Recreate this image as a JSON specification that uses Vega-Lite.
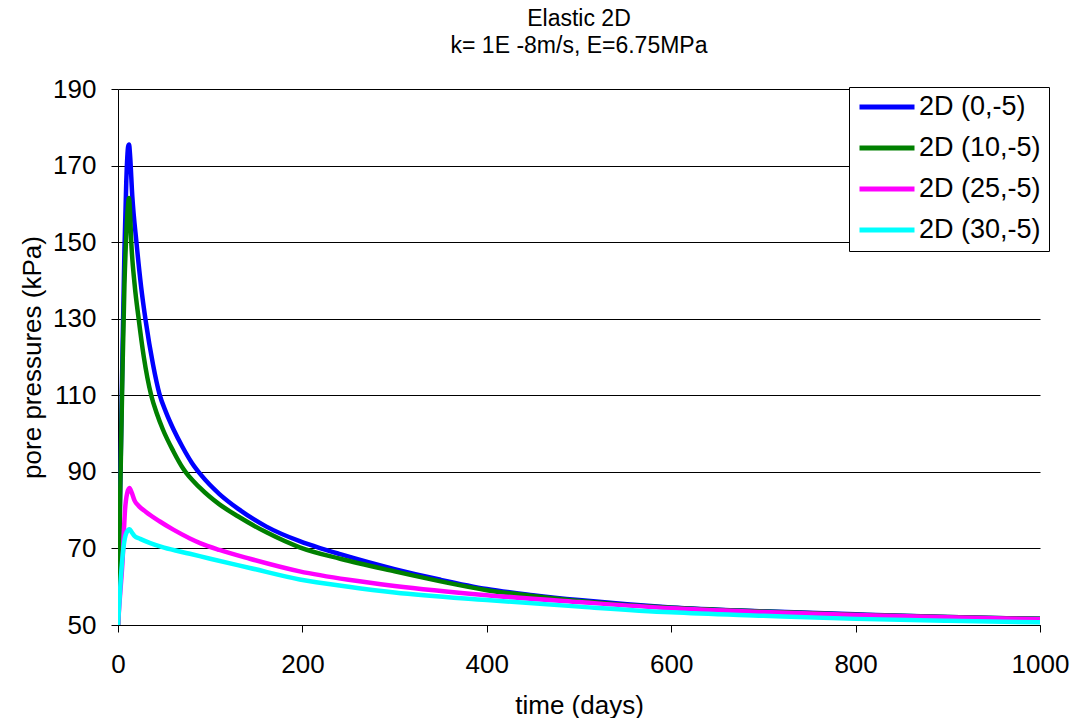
{
  "$schema": "https://vega.github.io/schema/vega-lite/v6.json",
  "width": 922,
  "height": 536,
  "autosize": {"type": "none"},
  "padding": {"left": 118, "top": 89, "right": 36, "bottom": 93},
  "background": "white",
  "title": {
    "text": ["Elastic 2D", "k= 1E -8m/s, E=6.75MPa"],
    "font": "Liberation Sans",
    "fontSize": 23,
    "fontWeight": "normal",
    "color": "black",
    "anchor": "middle",
    "lineHeight": 27,
    "offset": 18
  },
  "config": {
    "view": {"stroke": null},
    "font": "Liberation Sans"
  },
  "datasets": {
    "s0": [
      {"t": 0, "p": 50}, {"t": 1, "p": 66}, {"t": 3, "p": 94}, {"t": 5, "p": 123}, {"t": 7, "p": 148}, {"t": 9, "p": 166}, {"t": 11, "p": 175}, {"t": 12, "p": 175.5}, {"t": 13, "p": 173}, {"t": 15.5, "p": 162}, {"t": 20, "p": 150}, {"t": 25, "p": 138.5}, {"t": 30, "p": 129.5}, {"t": 38, "p": 118}, {"t": 45, "p": 110.3}, {"t": 52, "p": 105.6}, {"t": 60, "p": 101.2}, {"t": 70, "p": 96.5}, {"t": 80, "p": 92.4}, {"t": 90, "p": 89.2}, {"t": 110, "p": 84.2}, {"t": 130, "p": 80.4}, {"t": 161, "p": 75.7}, {"t": 197, "p": 71.9}, {"t": 219, "p": 70.1}, {"t": 241, "p": 68.5}, {"t": 300, "p": 64.6}, {"t": 350, "p": 61.8}, {"t": 400, "p": 59.4}, {"t": 450, "p": 57.8}, {"t": 500, "p": 56.5}, {"t": 600, "p": 54.6}, {"t": 700, "p": 53.6}, {"t": 800, "p": 52.8}, {"t": 900, "p": 52.1}, {"t": 1000, "p": 51.6}
    ],
    "s1": [
      {"t": 0, "p": 50}, {"t": 1, "p": 66}, {"t": 3, "p": 92}, {"t": 5, "p": 118}, {"t": 7, "p": 139}, {"t": 9, "p": 152}, {"t": 11, "p": 160}, {"t": 12, "p": 161.5}, {"t": 13, "p": 158}, {"t": 14.4, "p": 150}, {"t": 18, "p": 139}, {"t": 22.4, "p": 130}, {"t": 28, "p": 120}, {"t": 36, "p": 110}, {"t": 42, "p": 105.3}, {"t": 48.8, "p": 101}, {"t": 60, "p": 95.4}, {"t": 70.8, "p": 90.8}, {"t": 89, "p": 85.8}, {"t": 110, "p": 81.5}, {"t": 130, "p": 78.4}, {"t": 161, "p": 74.2}, {"t": 197, "p": 70.3}, {"t": 241, "p": 67.3}, {"t": 300, "p": 64}, {"t": 350, "p": 61.4}, {"t": 400, "p": 59.1}, {"t": 450, "p": 57.6}, {"t": 500, "p": 56.3}, {"t": 600, "p": 54.5}, {"t": 700, "p": 53.5}, {"t": 800, "p": 52.7}, {"t": 900, "p": 52.1}, {"t": 1000, "p": 51.6}
    ],
    "s2": [
      {"t": 0, "p": 50}, {"t": 2, "p": 57}, {"t": 5, "p": 67}, {"t": 7.6, "p": 80}, {"t": 10, "p": 84.5}, {"t": 12.5, "p": 85.8}, {"t": 15, "p": 84.5}, {"t": 18, "p": 82.5}, {"t": 22, "p": 81.2}, {"t": 30, "p": 79.6}, {"t": 45, "p": 77.1}, {"t": 60, "p": 74.9}, {"t": 78, "p": 72.6}, {"t": 89, "p": 71.4}, {"t": 110, "p": 69.6}, {"t": 143, "p": 67.3}, {"t": 197, "p": 64}, {"t": 250, "p": 61.8}, {"t": 300, "p": 60.2}, {"t": 400, "p": 57.8}, {"t": 500, "p": 56}, {"t": 600, "p": 54.4}, {"t": 700, "p": 53.4}, {"t": 800, "p": 52.6}, {"t": 900, "p": 52}, {"t": 1000, "p": 51.5}
    ],
    "s3": [
      {"t": 0, "p": 50}, {"t": 3, "p": 62}, {"t": 6, "p": 70.4}, {"t": 9, "p": 74}, {"t": 12.5, "p": 75}, {"t": 15, "p": 74.2}, {"t": 18, "p": 73.2}, {"t": 24, "p": 72.5}, {"t": 35, "p": 71.4}, {"t": 50, "p": 70.2}, {"t": 78, "p": 68.6}, {"t": 100, "p": 67.3}, {"t": 143, "p": 64.9}, {"t": 197, "p": 61.9}, {"t": 250, "p": 60}, {"t": 300, "p": 58.5}, {"t": 400, "p": 56.5}, {"t": 500, "p": 54.8}, {"t": 600, "p": 53.3}, {"t": 700, "p": 52.4}, {"t": 800, "p": 51.6}, {"t": 900, "p": 51.1}, {"t": 1000, "p": 50.7}
    ]
  },
  "layer": [
    {"data": {"name": "s0"}, "transform": [{"calculate": "'2D (0,-5)'", "as": "series"}],
     "mark": {"type": "line", "strokeWidth": 4.5, "strokeJoin": "round", "strokeCap": "round", "interpolate": "monotone", "clip": true},
     "encoding": {
       "x": {"field": "t", "type": "quantitative", "scale": {"domain": [0, 1000], "nice": false},
             "axis": {"values": [0, 200, 400, 600, 800, 1000], "format": "d", "title": "time (days)", "grid": false,
                      "domainColor": "black", "tickColor": "black", "tickSize": 7, "labelFontSize": 26, "labelColor": "black", "labelPadding": 19,
                      "titleFontSize": 26, "titleFontWeight": "normal", "titleColor": "black", "titleX": 461, "titleY": 80, "titleBaseline": "middle", "titleAlign": "center", "labelFlush": false}},
       "y": {"field": "p", "type": "quantitative", "scale": {"domain": [50, 190], "nice": false, "zero": false},
             "axis": {"values": [50, 70, 90, 110, 130, 150, 170, 190], "title": "pore pressures (kPa)", "grid": true, "gridColor": "black", "gridOpacity": 1, "gridWidth": 1,
                      "domainColor": "black", "tickColor": "black", "tickSize": 7, "labelFontSize": 26, "labelColor": "black", "labelPadding": 15,
                      "titleFontSize": 26, "titleFontWeight": "normal", "titleColor": "black", "titleX": -86, "titleY": 268, "titleAngle": 270, "titleBaseline": "middle", "titleAlign": "center"}},
       "color": {"field": "series", "type": "nominal",
                 "scale": {"domain": ["2D (0,-5)", "2D (10,-5)", "2D (25,-5)", "2D (30,-5)"], "range": ["#0000FF", "#008000", "#FF00FF", "#00FFFF"]},
                 "legend": {"title": null, "orient": "none", "legendX": 731, "legendY": -2, "symbolType": "stroke", "symbolSize": 3025, "symbolStrokeWidth": 5,
                            "labelFontSize": 27, "labelColor": "black", "labelOffset": 2, "clipHeight": 24, "rowPadding": 14, "padding": 8,
                            "strokeColor": "black", "fillColor": "white", "labelExpr": "datum.label + '\u00a0\u00a0\u00a0'", "labelLimit": 400}}
     }},
    {"data": {"name": "s1"}, "transform": [{"calculate": "'2D (10,-5)'", "as": "series"}],
     "mark": {"type": "line", "strokeWidth": 4.5, "strokeJoin": "round", "strokeCap": "round", "interpolate": "monotone", "clip": true},
     "encoding": {"x": {"field": "t", "type": "quantitative"}, "y": {"field": "p", "type": "quantitative"}, "color": {"field": "series", "type": "nominal"}}},
    {"data": {"name": "s2"}, "transform": [{"calculate": "'2D (25,-5)'", "as": "series"}],
     "mark": {"type": "line", "strokeWidth": 4.5, "strokeJoin": "round", "strokeCap": "round", "interpolate": "monotone", "clip": true},
     "encoding": {"x": {"field": "t", "type": "quantitative"}, "y": {"field": "p", "type": "quantitative"}, "color": {"field": "series", "type": "nominal"}}},
    {"data": {"name": "s3"}, "transform": [{"calculate": "'2D (30,-5)'", "as": "series"}],
     "mark": {"type": "line", "strokeWidth": 4.5, "strokeJoin": "round", "strokeCap": "round", "interpolate": "monotone", "clip": true},
     "encoding": {"x": {"field": "t", "type": "quantitative"}, "y": {"field": "p", "type": "quantitative"}, "color": {"field": "series", "type": "nominal"}}}
  ]
}
